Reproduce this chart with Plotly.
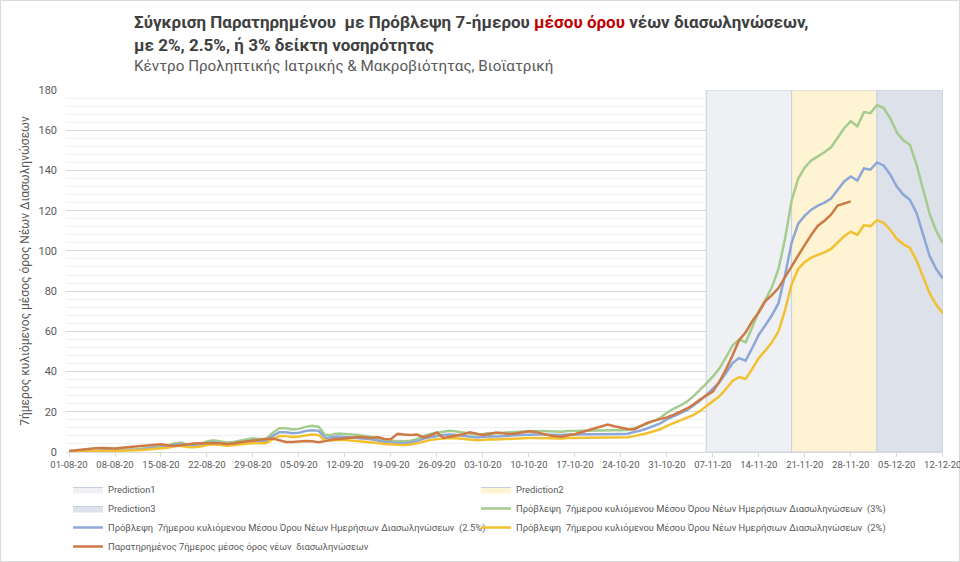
import pandas as pd
import plotly.graph_objects as go

# ---------------- data ----------------
start_date = "2020-08-01"
n_pred_days = 134
n_obs_days = 120

green_3pct = [
    0.0, 0.1, 0.2, 0.3, 0.4, 0.5, 0.6, 0.8, 1.0, 1.1,
    1.3, 1.6, 2.0, 2.3, 2.6, 3.2, 4.2, 4.7, 3.8, 3.5,
    4.0, 5.2, 5.8, 5.2, 4.7, 5.0, 5.5, 6.2, 6.8, 6.5,
    6.6, 9.5, 11.8, 11.8, 11.2, 11.5, 12.5, 13.0, 12.6, 8.4,
    8.6, 9.2, 9.0, 8.6, 8.4, 8.0, 7.6, 6.8, 6.0, 5.6,
    5.4, 5.3, 5.6, 6.5, 8.0, 9.0, 9.6, 10.2, 10.5, 10.2,
    9.6, 9.0, 8.7, 9.0, 9.4, 9.3, 9.6, 10.0, 10.0, 10.2,
    10.5, 10.5, 10.4, 10.2, 10.0, 10.1, 10.4, 10.5, 10.6, 10.6,
    10.7, 10.8, 10.8, 10.8, 10.8, 10.9, 11.8, 12.8, 14.0, 15.5,
    17.0, 19.5, 21.5, 23.0, 24.9, 27.5, 30.5, 34.0, 37.5, 41.5,
    47.0, 53.0, 56.0, 54.5, 62.0, 70.0, 75.5, 82.0, 91.0, 106.0,
    125.0, 136.0, 141.5, 145.0, 147.0, 149.0, 151.5, 156.0, 161.0, 164.5,
    162.0, 169.0, 168.5, 172.5, 171.0, 166.0, 159.0, 155.0, 152.8, 143.0,
    131.0, 118.5, 110.0, 103.8,
]

blue_25pct = [
    0.0, 0.1, 0.2, 0.25, 0.3, 0.4, 0.5, 0.7, 0.8, 0.9,
    1.1, 1.3, 1.7, 1.9, 2.2, 2.7, 3.5, 3.9, 3.2, 2.9,
    3.3, 4.3, 4.8, 4.3, 3.9, 4.2, 4.6, 5.2, 5.7, 5.4,
    5.5, 7.9, 9.8, 9.8, 9.3, 9.6, 10.4, 10.8, 10.5, 7.0,
    7.2, 7.7, 7.5, 7.2, 7.0, 6.7, 6.3, 5.7, 5.0, 4.7,
    4.5, 4.4, 4.7, 5.4, 6.7, 7.5, 8.0, 8.5, 8.7, 8.5,
    8.0, 7.5, 7.2, 7.5, 7.8, 7.7, 8.0, 8.3, 8.3, 8.5,
    8.7, 8.7, 8.7, 8.5, 8.3, 8.4, 8.7, 8.7, 8.8, 8.8,
    8.9, 9.0, 9.0, 9.0, 9.0, 9.1, 9.8, 10.7, 11.7, 12.9,
    14.2, 16.2, 17.9, 19.2, 20.7, 22.9, 25.4, 28.3, 31.2, 34.6,
    39.2, 44.2, 46.7, 45.4, 51.7, 58.3, 63.0, 68.0, 74.0, 88.0,
    104.0, 113.5, 117.5, 120.5, 122.5, 124.0, 126.0, 130.0, 134.5, 137.0,
    135.0, 141.0, 140.4, 144.0, 142.5, 138.0, 132.0, 128.0, 125.4, 119.0,
    108.0, 97.5, 91.0, 86.4,
]

yellow_2pct = [
    0.0, 0.05, 0.1, 0.2, 0.25, 0.3, 0.4, 0.5, 0.65, 0.75,
    0.85, 1.05, 1.3, 1.5, 1.75, 2.1, 2.8, 3.1, 2.5, 2.3,
    2.7, 3.5, 3.9, 3.5, 3.1, 3.3, 3.7, 4.1, 4.5, 4.3,
    4.4, 6.3, 7.9, 7.9, 7.5, 7.7, 8.3, 8.7, 8.4, 5.6,
    5.7, 6.1, 6.0, 5.7, 5.6, 5.3, 5.1, 4.5, 4.0, 3.7,
    3.6, 3.5, 3.7, 4.3, 5.3, 6.0, 6.4, 6.8, 7.0, 6.8,
    6.4, 6.0, 5.8, 6.0, 6.3, 6.2, 6.4, 6.7, 6.7, 6.8,
    7.0, 7.0, 6.9, 6.8, 6.7, 6.7, 6.9, 7.0, 7.1, 7.1,
    7.1, 7.2, 7.2, 7.2, 7.2, 7.3, 7.9, 8.5, 9.3, 10.3,
    11.3, 13.0, 14.3, 15.3, 16.6, 18.3, 20.3, 22.7, 25.0, 27.7,
    31.3, 35.3, 37.3, 36.3, 41.3, 46.7, 50.5, 54.5, 60.0, 70.5,
    83.5, 91.0, 94.5, 96.7, 98.0, 99.3, 101.0, 104.0, 107.3, 109.6,
    108.0, 112.7, 112.3, 115.3, 114.0, 110.5, 106.0, 103.3, 101.5, 95.3,
    87.3, 79.0, 73.3, 69.0,
]

observed = [
    0.5, 0.9, 1.2, 1.6, 1.9, 2.0, 1.9, 1.7, 2.1, 2.4,
    2.6, 2.8, 3.2, 3.6, 3.8, 3.3, 3.0, 3.3, 3.8, 4.2,
    4.3, 4.4, 4.5, 4.3, 4.0, 4.2, 4.8, 5.3, 5.5, 6.0,
    6.5, 6.7, 5.8, 5.0, 5.0, 5.2, 5.5, 5.3, 4.8, 5.4,
    6.2, 6.5, 6.8, 7.2, 7.5, 7.3, 7.0, 7.4, 6.5, 6.3,
    9.0, 8.7, 8.5, 8.7, 7.3, 8.2, 9.7, 7.0, 7.5, 8.0,
    8.8, 9.8, 9.3, 8.5, 9.0, 9.7, 9.3, 9.0, 9.2, 9.8,
    10.3, 10.0, 9.0, 8.3, 7.8, 7.6, 8.3, 8.8, 9.8, 10.8,
    11.8, 12.8, 13.7, 12.8, 12.0, 11.4, 11.2, 12.8, 14.5, 15.5,
    16.3, 17.2, 18.5, 20.0, 21.5, 23.5, 26.0, 28.0, 30.0, 35.0,
    41.0, 48.0, 55.6, 59.5, 65.0, 69.5, 75.0, 78.0, 81.5, 87.0,
    92.5, 98.0, 103.0, 108.0, 112.5, 115.0, 118.0, 122.5, 123.5, 124.6,
]

region_names = ["Prediction1", "Prediction2", "Prediction3"]
region_starts = ["2020-11-06", "2020-11-19", "2020-12-02"]
region_ends = ["2020-11-19", "2020-12-02", "2020-12-12"]

y_max = 180

pred_dates = pd.date_range(start_date, periods=n_pred_days, freq="D")
obs_dates = pred_dates[:n_obs_days]

name_green = "Πρόβλεψη  7ήμερου κυλιόμενου Μέσου Όρου Νέων Ημερήσιων Διασωληνώσεων  (3%)"
name_blue = "Πρόβλεψη  7ήμερου κυλιόμενου Μέσου Όρου Νέων Ημερήσιων Διασωληνώσεων  (2.5%)"
name_yellow = "Πρόβλεψη  7ήμερου κυλιόμενου Μέσου Όρου Νέων Ημερήσιων Διασωληνώσεων  (2%)"
name_obs = "Παρατηρημένος 7ήμερος μέσος όρος νέων  διασωληνώσεων"

# ---------------- styles ----------------
W, H = 960, 562
ML, MR, MT, MB = 66, 17, 90, 110
PW, PH = W - ML - MR, H - MT - MB


def px_x(p):
    return (p - ML) / PW


def px_y(p):
    return (H - MB - p) / PH


region_fills = ["#EEF0F3", "#FEF3D3", "#DCE1EA"]
region_legend = ["legend", "legend2", "legend"]
region_line = "#C6D0E0"
c_green = "#A5CC8F"
c_blue = "#8CA7D8"
c_yellow = "#F3C02F"
c_orange = "#CD7A45"
txt = "#595959"
FONT = "Roboto"

fig = go.Figure()

for name, s, e, fc, lg in zip(region_names, region_starts, region_ends,
                              region_fills, region_legend):
    fig.add_trace(go.Scatter(
        x=[s, s, e, e, s], y=[0, y_max, y_max, 0, 0],
        mode="lines", fill="toself", fillcolor=fc,
        line=dict(color=region_line, width=1),
        name=name, hoverinfo="skip", legend=lg,
    ))

for name, vals, col, xs, lg in [
    (name_green, green_3pct, c_green, pred_dates, "legend2"),
    (name_blue, blue_25pct, c_blue, pred_dates, "legend"),
    (name_yellow, yellow_2pct, c_yellow, pred_dates, "legend2"),
    (name_obs, observed, c_orange, obs_dates, "legend"),
]:
    fig.add_trace(go.Scatter(
        x=xs, y=vals, mode="lines", name=name, legend=lg,
        line=dict(color=col, width=2.5),
    ))

leg_common = dict(
    orientation="v", xanchor="left", yanchor="top",
    font=dict(family=FONT, size=9.4, color=txt),
    bgcolor="rgba(0,0,0,0)", traceorder="normal",
)

fig.update_layout(
    width=W, height=H,
    margin=dict(l=ML, r=MR, t=MT, b=MB, autoexpand=False),
    paper_bgcolor="white", plot_bgcolor="white",
    font=dict(family=FONT, color=txt, size=10),
    showlegend=True,
    legend=dict(x=px_x(68), y=px_y(475), **leg_common),
    legend2=dict(x=px_x(476), y=px_y(475), **leg_common),
    xaxis=dict(
        type="date",
        range=["2020-07-31 13:00", "2020-12-12 01:00"],
        tick0="2020-08-01", dtick=7 * 86400000,
        tickformat="%d-%m-%y", tickangle=0,
        ticklabeloverflow="allow",
        tickfont=dict(family=FONT, size=9.5, color=txt),
        showgrid=False, showline=True, linecolor="#D9D9D9", linewidth=1,
        ticks="outside", ticklen=4, tickcolor="#D9D9D9",
        zeroline=False, fixedrange=True,
    ),
    yaxis=dict(
        range=[0, y_max], dtick=20, tick0=0,
        showgrid=True, gridcolor="#D9D9D9", gridwidth=1,
        minor=dict(dtick=4, showgrid=True, gridcolor="#F1F1F1", gridwidth=1),
        zeroline=False, showline=False,
        tickfont=dict(family=FONT, size=11, color=txt),
        ticklabelstandoff=8,
        title=dict(text="7ήμερος κυλιόμενος μέσος όρος Νέων Διασωληνώσεων",
                   font=dict(family=FONT, size=12, color=txt), standoff=6),
        fixedrange=True,
    ),
    annotations=[
        dict(xref="paper", yref="paper", x=px_x(132), y=px_y(22),
             xanchor="left", yanchor="middle", showarrow=False,
             text="<b>Σύγκριση Παρατηρημένου  με Πρόβλεψη 7-ήμερου "
                  "<span style='color:#C00000'>μέσου όρου</span> νέων διασωληνώσεων,</b>",
             font=dict(family=FONT, size=17, color="#404040")),
        dict(xref="paper", yref="paper", x=px_x(132), y=px_y(45),
             xanchor="left", yanchor="middle", showarrow=False,
             text="<b>με 2%, 2.5%, ή 3% δείκτη νοσηρότητας</b>",
             font=dict(family=FONT, size=17, color="#404040")),
        dict(xref="paper", yref="paper", x=px_x(132), y=px_y(66),
             xanchor="left", yanchor="middle", showarrow=False,
             text="Κέντρο Προληπτικής Ιατρικής & Μακροβιότητας, Βιοϊατρική",
             font=dict(family=FONT, size=15.2, color="#595959")),
    ],
    shapes=[
        dict(type="rect", xref="paper", yref="paper",
             x0=px_x(0.5), x1=px_x(959.5), y0=px_y(561.5), y1=px_y(0.5),
             line=dict(color="#D9D9D9", width=1), fillcolor="rgba(0,0,0,0)",
             layer="below"),
    ],
)

fig.write_html(
    "out.html",
    config={"displayModeBar": False},
    post_script="document.body.style.margin='0';document.body.style.overflow='hidden';",
)
